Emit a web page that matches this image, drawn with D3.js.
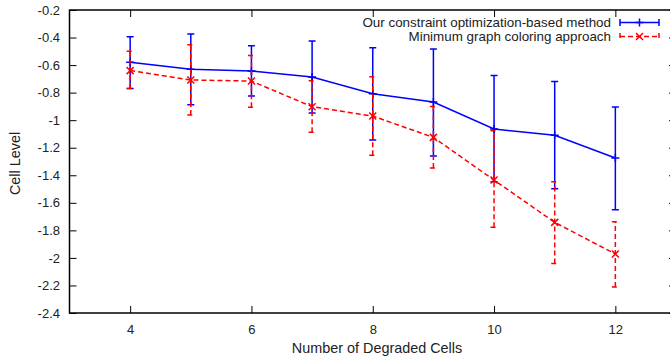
<!DOCTYPE html>
<html>
<head>
<meta charset="utf-8">
<script src="https://cdn.jsdelivr.net/npm/d3@7"></script>
<style>
  body { margin: 0; background: #fff; }
  svg { display: block; font-family: "Liberation Sans", Arial, sans-serif; }
</style>
</head>
<body>
<div id="chart"></div>
<script>
// data
const xValues = [4, 5, 6, 7, 8, 9, 10, 11, 12];
const ourMean = [-0.58, -0.63, -0.643, -0.687, -0.808, -0.868, -1.064, -1.11, -1.275];
const ourLow  = [-0.77, -0.888, -0.825, -0.948, -1.144, -1.26, -1.447, -1.498, -1.65];
const ourHigh = [-0.394, -0.374, -0.459, -0.425, -0.474, -0.483, -0.675, -0.72, -0.904];
const mgcMean = [-0.64, -0.708, -0.716, -0.902, -0.97, -1.125, -1.435, -1.742, -1.972];
const mgcLow  = [-0.77, -0.963, -0.906, -1.088, -1.255, -1.347, -1.778, -2.04, -2.212];
const mgcHigh = [-0.50, -0.452, -0.53, -0.713, -0.684, -0.9, -1.076, -1.447, -1.737];
const xTicks = [4, 6, 8, 10, 12];
const yTicks = [-0.2, -0.4, -0.6, -0.8, -1, -1.2, -1.4, -1.6, -1.8, -2, -2.2, -2.4];
const seriesNames = ["Our constraint optimization-based method", "Minimum graph coloring approach"];

const width = 670, height = 360;
const plot = {left: 69.5, right: 676, top: 10, bottom: 313};
const tickLen = 7;

const svg = d3.select("#chart").append("svg")
    .attr("width", width)
    .attr("height", height);

const x = d3.scaleLinear().domain([3, 13]).range([plot.left, plot.right]);
const y = d3.scaleLinear().domain([-2.4, -0.2]).range([plot.bottom, plot.top]);

// axes with inward ticks on all four sides
const fmt = d => String(+d.toFixed(1));

const bottomAxis = svg.append("g")
    .attr("transform", "translate(0," + plot.bottom + ")")
    .call(d3.axisBottom(x).tickValues(xTicks).tickSizeInner(-tickLen).tickSizeOuter(0).tickPadding(12).tickFormat(fmt));
const topAxis = svg.append("g")
    .attr("transform", "translate(0," + plot.top + ")")
    .call(d3.axisTop(x).tickValues(xTicks).tickSizeInner(-tickLen).tickSizeOuter(0).tickFormat(""));
const leftAxis = svg.append("g")
    .attr("transform", "translate(" + plot.left + ",0)")
    .call(d3.axisLeft(y).tickValues(yTicks).tickSizeInner(-tickLen).tickSizeOuter(0).tickPadding(9.5).tickFormat(fmt));
const rightAxis = svg.append("g")
    .attr("transform", "translate(" + plot.right + ",0)")
    .call(d3.axisRight(y).tickValues(yTicks).tickSizeInner(-tickLen).tickSizeOuter(0).tickFormat(""));

[bottomAxis, topAxis, leftAxis, rightAxis].forEach(g => {
    g.select(".domain").remove();
    g.selectAll(".tick line").attr("stroke", "#000").attr("stroke-width", 1);
    g.selectAll(".tick text")
        .attr("fill", "#222")
        .style("font-size", "13px")
        .style("font-family", "Liberation Sans, Arial, sans-serif");
});

// frame
svg.append("rect")
    .attr("x", plot.left)
    .attr("y", plot.top)
    .attr("width", plot.right - plot.left)
    .attr("height", plot.bottom - plot.top)
    .attr("fill", "none")
    .attr("stroke", "#000")
    .attr("stroke-width", 1.5);

// axis titles
svg.append("text")
    .attr("x", 377)
    .attr("y", 352.5)
    .attr("text-anchor", "middle")
    .attr("fill", "#222")
    .style("font-size", "14.4px")
    .text("Number of Degraded Cells");

svg.append("text")
    .attr("transform", "translate(20," + 163.5 + ") rotate(-90)")
    .attr("text-anchor", "middle")
    .attr("fill", "#222")
    .style("font-size", "14.4px")
    .text("Cell Level");

const series = [
    {mean: ourMean, low: ourLow, high: ourHigh, color: "#0000ff", dash: null, marker: "plus"},
    {mean: mgcMean, low: mgcLow, high: mgcHigh, color: "#ff0000", dash: "5,3", marker: "cross"}
];

const capW = 3.5;

function drawMarker(g, type, cx, cy, color) {
    if (type === "plus") {
        g.append("path")
            .attr("d", "M" + (cx - 4) + "," + cy + "H" + (cx + 4) + "M" + cx + "," + (cy - 4) + "V" + (cy + 4))
            .attr("stroke", color).attr("stroke-width", 1.5).attr("fill", "none");
    } else {
        const s = 3.5;
        g.append("path")
            .attr("d", "M" + (cx - s) + "," + (cy - s) + "L" + (cx + s) + "," + (cy + s) +
                       "M" + (cx - s) + "," + (cy + s) + "L" + (cx + s) + "," + (cy - s))
            .attr("stroke", color).attr("stroke-width", 1.5).attr("fill", "none");
    }
}

series.forEach(s => {
    const g = svg.append("g");
    const line = d3.line()
        .x((d, i) => x(xValues[i]))
        .y(d => y(d));

    g.append("path")
        .datum(s.mean)
        .attr("d", line)
        .attr("fill", "none")
        .attr("stroke", s.color)
        .attr("stroke-width", 1.5)
        .attr("stroke-dasharray", s.dash);

    xValues.forEach((xv, i) => {
        const px = x(xv);
        g.append("path")
            .attr("d", "M" + px + "," + y(s.low[i]) + "V" + y(s.high[i]) +
                       "M" + (px - capW) + "," + y(s.low[i]) + "H" + (px + capW) +
                       "M" + (px - capW) + "," + y(s.high[i]) + "H" + (px + capW))
            .attr("fill", "none")
            .attr("stroke", s.color)
            .attr("stroke-width", 1.5)
            .attr("stroke-dasharray", s.dash);
        drawMarker(g, s.marker, px, y(s.mean[i]), s.color);
    });
});

// legend
const legend = svg.append("g");
seriesNames.forEach((name, i) => {
    const s = series[i];
    const ly = 22.5 + i * 14;
    legend.append("text")
        .attr("x", 611)
        .attr("y", ly + 4.5)
        .attr("text-anchor", "end")
        .attr("fill", "#222")
        .style("font-size", "13.4px")
        .text(name);
    legend.append("path")
        .attr("d", "M620," + ly + "H659" +
                   "M620," + (ly - capW) + "V" + (ly + capW) +
                   "M659," + (ly - capW) + "V" + (ly + capW))
        .attr("fill", "none")
        .attr("stroke", s.color)
        .attr("stroke-width", 1.5)
        .attr("stroke-dasharray", s.dash);
    drawMarker(legend, s.marker, 639.5, ly, s.color);
});
</script>
</body>
</html>
